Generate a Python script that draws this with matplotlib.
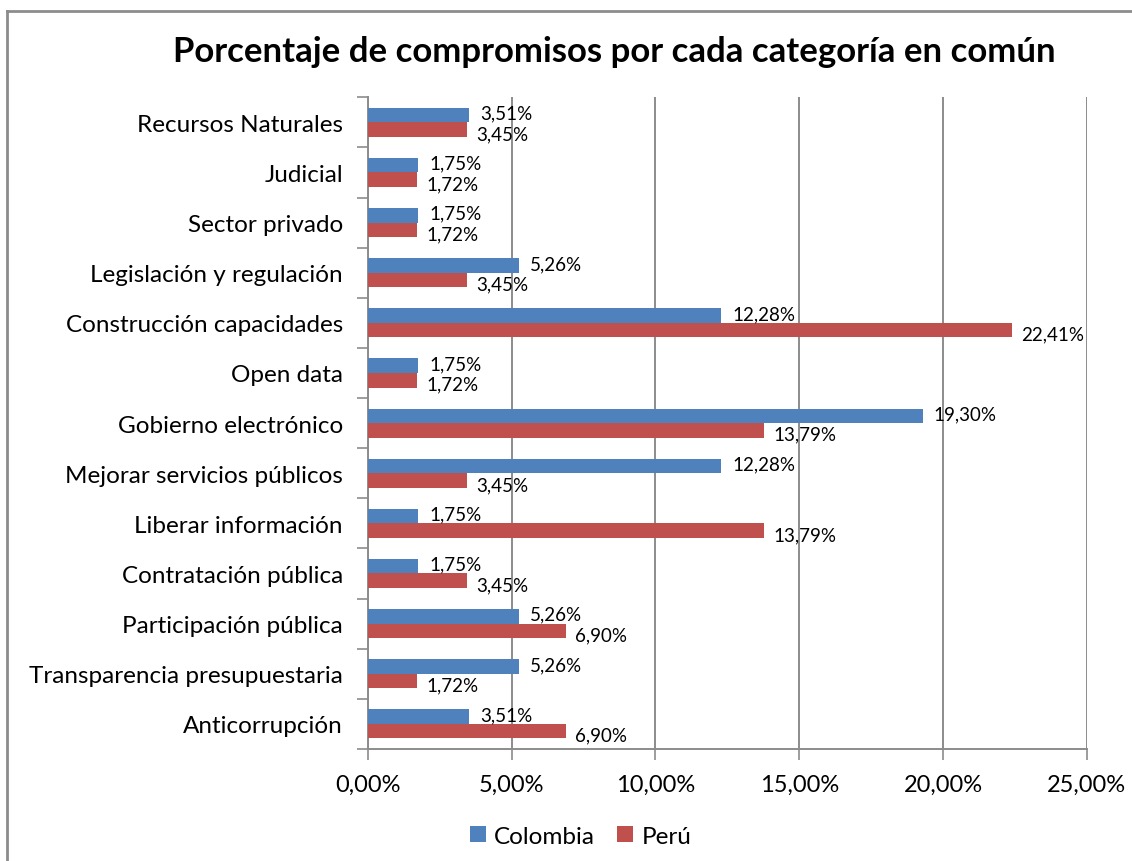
"""Horizontal bar chart: commitments per shared category, Colombia vs Perú."""

import matplotlib
matplotlib.use("Agg")
import matplotlib.pyplot as plt
from matplotlib.lines import Line2D
import numpy as np

plt.rcParams["font.family"] = ["Lato", "DejaVu Sans"]

categories = [
    "Recursos Naturales",
    "Judicial",
    "Sector privado",
    "Legislación y regulación",
    "Construcción capacidades",
    "Open data",
    "Gobierno electrónico",
    "Mejorar servicios públicos",
    "Liberar información",
    "Contratación pública",
    "Participación pública",
    "Transparencia presupuestaria",
    "Anticorrupción",
]
colombia = [3.51, 1.75, 1.75, 5.26, 12.28, 1.75, 19.30, 12.28, 1.75, 1.75, 5.26, 5.26, 3.51]
peru = [3.45, 1.72, 1.72, 3.45, 22.41, 1.72, 13.79, 3.45, 13.79, 3.45, 6.90, 1.72, 6.90]
xticks = [0, 5, 10, 15, 20, 25]

BLUE = "#4F81BD"
RED = "#C0504D"
GRID = "#8C8C8C"


def pct(v):
    return f"{v:.2f}%".replace(".", ",")


fig = plt.figure(figsize=(11.32, 8.62), dpi=100)
ax = fig.add_axes([0.325, 0.130, 0.635, 0.756])

y = np.arange(len(categories))
h = 0.29
ax.barh(y - h / 2, colombia, height=h, color=BLUE, label="Colombia", zorder=3)
ax.barh(y + h / 2, peru, height=h, color=RED, label="Perú", zorder=3)

for yi, c, p in zip(y, colombia, peru):
    ax.annotate(pct(c), (c, yi - h / 2), xytext=(11, 2), textcoords="offset pixels",
                va="center", ha="left", fontsize=13.5)
    ax.annotate(pct(p), (p, yi + h / 2), xytext=(9, -4), textcoords="offset pixels",
                va="center", ha="left", fontsize=13.5)

ax.set_xlim(0, 25)
ax.set_ylim(len(categories) - 0.5, -0.5)
ax.set_xticks(xticks)
ax.set_xticklabels([pct(t) for t in xticks], fontsize=17)
ax.set_yticks(y)
ax.set_yticklabels(categories, fontsize=17.5)
ax.set_yticks(np.arange(len(categories) + 1) - 0.5, minor=True)
ax.tick_params(axis="y", which="major", length=0, pad=18)
ax.tick_params(axis="y", which="minor", length=8, color=GRID, width=1.2)
ax.tick_params(axis="x", length=8, color=GRID, width=1.2, pad=10)

ax.grid(axis="x", color=GRID, linewidth=1.4, zorder=0)
for side in ("top", "right"):
    ax.spines[side].set_visible(False)
for side in ("left", "bottom"):
    ax.spines[side].set_color(GRID)
    ax.spines[side].set_linewidth(1.4)

fig.text(0.543, 0.940, "Porcentaje de compromisos por cada categoría en común",
         ha="center", va="center", fontsize=25, fontweight="bold")

fig.legend(loc="center", bbox_to_anchor=(0.513, 0.029), ncol=2, frameon=False,
           fontsize=17.5, handlelength=0.65, handleheight=0.65, columnspacing=0.9,
           handletextpad=0.35)

# chart-area frame: only the top and left edges are inside the picture
fx, fy = 7 / 1132, 1 - 12 / 862
fig.lines.append(Line2D([fx, 1], [fy, fy], transform=fig.transFigure,
                        color=GRID, linewidth=2))
fig.lines.append(Line2D([fx, fx], [0, fy], transform=fig.transFigure,
                        color=GRID, linewidth=2))

fig.savefig("out.png", dpi=100)
